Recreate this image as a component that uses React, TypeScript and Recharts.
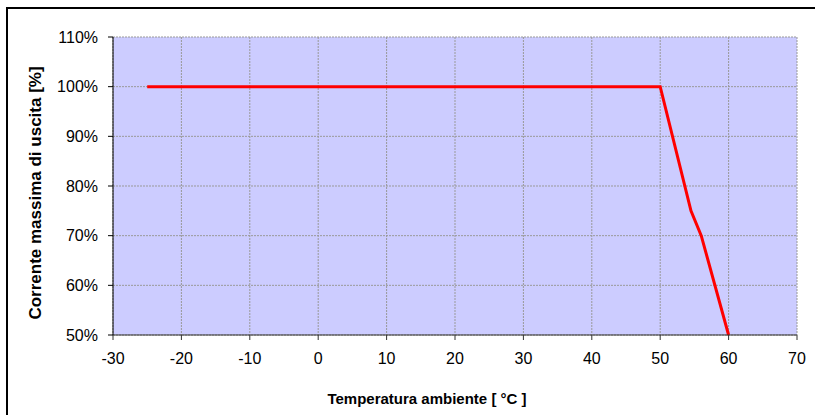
import React from 'react';
import { LineChart, Line, XAxis, YAxis, CartesianGrid, Label } from 'recharts';

// temperature [°C] vs max output current [%]
const temps = [-25, 50, 54.5, 56, 60];
const current = [100, 100, 75, 70, 50];

const xTicks = [-30, -20, -10, 0, 10, 20, 30, 40, 50, 60, 70];
const yTicks = [50, 60, 70, 80, 90, 100, 110];

const data = temps.map((t, i) => ({ temp: t, current: current[i] }));

const FONT = 'Arial, "Liberation Sans", sans-serif';

const App: React.FC = () => {
  return (
    <div style={{ position: 'fixed', left: 0, top: 0, width: 815, height: 415, overflow: 'hidden', background: '#fff' }}>
      <div style={{ position: 'absolute', left: 6, top: 7, width: 820, height: 420, border: '2px solid #000', boxSizing: 'border-box' }} />
      <div style={{ position: 'absolute', left: 0, top: 0 }}>
        <LineChart width={815} height={415} data={data} margin={{ top: 37, right: 18, bottom: 50, left: 0 }}>
          <CartesianGrid fill="#ccccff" stroke="#999" strokeDasharray="2 1" />
          <XAxis
            dataKey="temp"
            type="number"
            domain={[-30, 70]}
            ticks={xTicks}
            height={30}
            tickSize={5}
            tickMargin={13}
            stroke="#333"
            tick={{ fill: '#000', fontSize: 16, fontFamily: FONT }}
          >
            <Label
              content={() => (
                <text x={427} y={404} textAnchor="middle" fontSize={15} fontWeight="bold" fontFamily={FONT} fill="#000">
                  Temperatura ambiente [ °C ]
                </text>
              )}
            />
          </XAxis>
          <YAxis
            type="number"
            domain={[50, 110]}
            ticks={yTicks}
            width={113}
            tickSize={5}
            tickMargin={10}
            stroke="#000"
            tickFormatter={(v: number) => `${v}%`}
            tick={{ fill: '#000', fontSize: 16, fontFamily: FONT }}
          >
            <Label
              content={() => (
                <text
                  x={35}
                  y={193}
                  transform="rotate(-90 35 193)"
                  textAnchor="middle"
                  dominantBaseline="central"
                  fontSize={17}
                  fontWeight="bold"
                  fontFamily={FONT}
                  fill="#000"
                >
                  Corrente massima di uscita [%]
                </text>
              )}
            />
          </YAxis>
          <Line
            type="linear"
            dataKey="current"
            stroke="#ff0000"
            strokeWidth={3}
            dot={false}
            isAnimationActive={false}
          />
        </LineChart>
      </div>
    </div>
  );
};

export default App;
